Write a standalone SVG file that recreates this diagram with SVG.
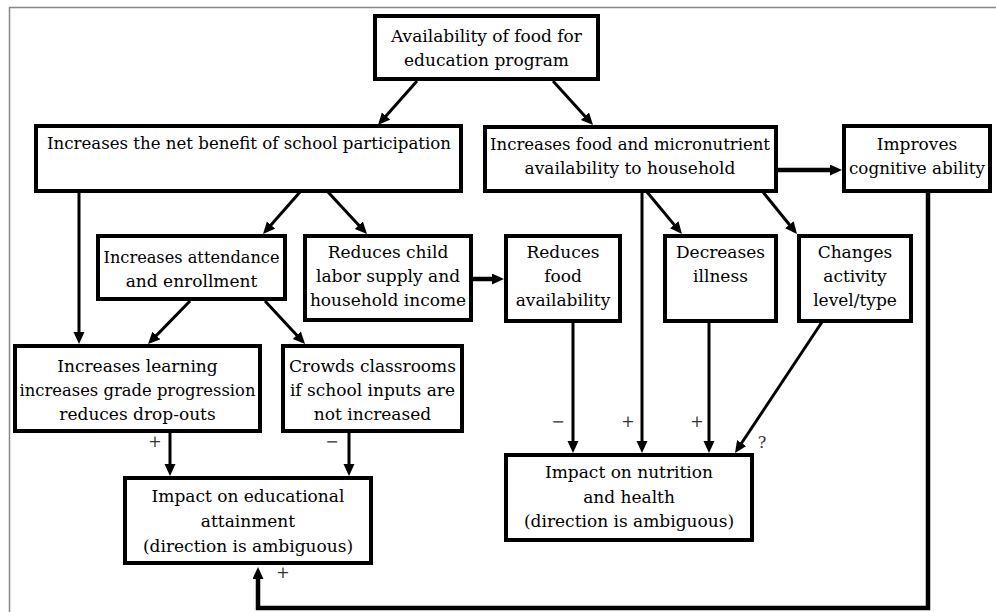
<svg xmlns="http://www.w3.org/2000/svg" width="996" height="612" viewBox="0 0 996 612">
<style>
.box{fill:#fff;stroke:#000;stroke-width:4}
.c{fill:none;stroke:#000;stroke-width:3}
.k{fill:none;stroke:#000;stroke-width:4.5}
.t{font-family:"DejaVu Serif","Liberation Serif",serif;font-size:17px;fill:#000;text-anchor:middle}
.s{font-family:"DejaVu Serif","Liberation Serif",serif;font-size:16px;fill:#333;text-anchor:middle}
</style>
<defs>
<marker id="ah" markerUnits="userSpaceOnUse" markerWidth="14" markerHeight="12" refX="3" refY="5.5" orient="auto" viewBox="0 0 14 12">
<path d="M0,0 L12,5.5 L0,11 z" fill="#000"/>
</marker>
</defs>
<rect x="9.5" y="7.5" width="1000" height="620" fill="none" stroke="#888" stroke-width="1.5"/>
<g id="connectors">
<line class="c" x1="417" y1="81" x2="384" y2="118.3" marker-end="url(#ah)"/>
<line class="c" x1="553" y1="81" x2="587" y2="118.4" marker-end="url(#ah)"/>
<line class="k" x1="777" y1="170" x2="833" y2="170" marker-end="url(#ah)"/>
<line class="c" x1="300" y1="192" x2="269" y2="227.3" marker-end="url(#ah)"/>
<line class="c" x1="328" y1="192" x2="360.9" y2="227.4" marker-end="url(#ah)"/>
<line class="c" x1="79" y1="192" x2="79" y2="335" marker-end="url(#ah)"/>
<line class="c" x1="190" y1="301" x2="154.3" y2="337.6" marker-end="url(#ah)"/>
<line class="c" x1="265" y1="301" x2="298.9" y2="337.4" marker-end="url(#ah)"/>
<line class="k" x1="472" y1="279" x2="495" y2="279" marker-end="url(#ah)"/>
<line class="c" x1="647" y1="192" x2="676.2" y2="227.1" marker-end="url(#ah)"/>
<line class="c" x1="763" y1="192" x2="791.3" y2="227" marker-end="url(#ah)"/>
<line class="c" x1="170" y1="432" x2="170" y2="467" marker-end="url(#ah)"/>
<line class="c" x1="349" y1="432" x2="349" y2="467" marker-end="url(#ah)"/>
<line class="c" x1="573" y1="322" x2="573" y2="444" marker-end="url(#ah)"/>
<line class="c" x1="642" y1="192" x2="642" y2="444" marker-end="url(#ah)"/>
<line class="c" x1="709" y1="322" x2="709" y2="444" marker-end="url(#ah)"/>
<line class="c" x1="822" y1="322" x2="740" y2="445.5" marker-end="url(#ah)"/>
<path class="k" d="M928,192 V608 H258 V576" marker-end="url(#ah)"/>
<text class="s" x="155" y="447">+</text>
<text class="s" x="332" y="447">−</text>
<text class="s" x="283" y="578">+</text>
<text class="s" x="558" y="427">−</text>
<text class="s" x="628" y="427">+</text>
<text class="s" x="697" y="427">+</text>
<text class="s" x="762" y="448">?</text>
</g>
<g id="n-top"><rect class="box" x="375" y="16" width="223" height="63"/>
<text class="t" x="486.5" y="42">Availability of food for</text><text class="t" x="486.5" y="66">education program</text></g>
<g id="n-net"><rect class="box" x="36" y="126" width="425" height="65"/>
<text class="t" x="249" y="149" textLength="404" lengthAdjust="spacingAndGlyphs">Increases the net benefit of school participation</text></g>
<g id="n-food"><rect class="box" x="485" y="127" width="291" height="64"/>
<text class="t" x="630" y="150" textLength="280" lengthAdjust="spacingAndGlyphs">Increases food and micronutrient</text><text class="t" x="630" y="174">availability to household</text></g>
<g id="n-cog"><rect class="box" x="844" y="126" width="146" height="65"/>
<text class="t" x="917" y="150">Improves</text><text class="t" x="917" y="174" textLength="136" lengthAdjust="spacingAndGlyphs">cognitive ability</text></g>
<g id="n-att"><rect class="box" x="98" y="236" width="187" height="63"/>
<text class="t" x="191.5" y="263" textLength="176" lengthAdjust="spacingAndGlyphs">Increases attendance</text><text class="t" x="191.5" y="287">and enrollment</text></g>
<g id="n-labor"><rect class="box" x="305" y="236" width="166" height="84"/>
<text class="t" x="388" y="258">Reduces child</text><text class="t" x="388" y="282">labor supply and</text><text class="t" x="388" y="306">household income</text></g>
<g id="n-rfood"><rect class="box" x="506" y="236" width="114" height="85"/>
<text class="t" x="563" y="258">Reduces</text><text class="t" x="563" y="282">food</text><text class="t" x="563" y="306">availability</text></g>
<g id="n-ill"><rect class="box" x="665" y="236" width="111" height="85"/>
<text class="t" x="720.5" y="258">Decreases</text><text class="t" x="720.5" y="282">illness</text></g>
<g id="n-act"><rect class="box" x="799" y="236" width="112" height="85"/>
<text class="t" x="855" y="258">Changes</text><text class="t" x="855" y="282">activity</text><text class="t" x="855" y="306">level/type</text></g>
<g id="n-learn"><rect class="box" x="15" y="346" width="245" height="85"/>
<text class="t" x="137.5" y="372">Increases learning</text><text class="t" x="137.5" y="396" textLength="236" lengthAdjust="spacingAndGlyphs">increases grade progression</text><text class="t" x="137.5" y="420">reduces drop-outs</text></g>
<g id="n-crowd"><rect class="box" x="283" y="346" width="179" height="85"/>
<text class="t" x="372.5" y="372">Crowds classrooms</text><text class="t" x="372.5" y="396">if school inputs are</text><text class="t" x="372.5" y="420">not increased</text></g>
<g id="n-edu"><rect class="box" x="125" y="478" width="246" height="85"/>
<text class="t" x="248" y="502">Impact on educational</text><text class="t" x="248" y="527">attainment</text><text class="t" x="248" y="552">(direction is ambiguous)</text></g>
<g id="n-nut"><rect class="box" x="506" y="455" width="246" height="85"/>
<text class="t" x="629" y="478">Impact on nutrition</text><text class="t" x="629" y="503">and health</text><text class="t" x="629" y="527">(direction is ambiguous)</text></g>
</svg>
